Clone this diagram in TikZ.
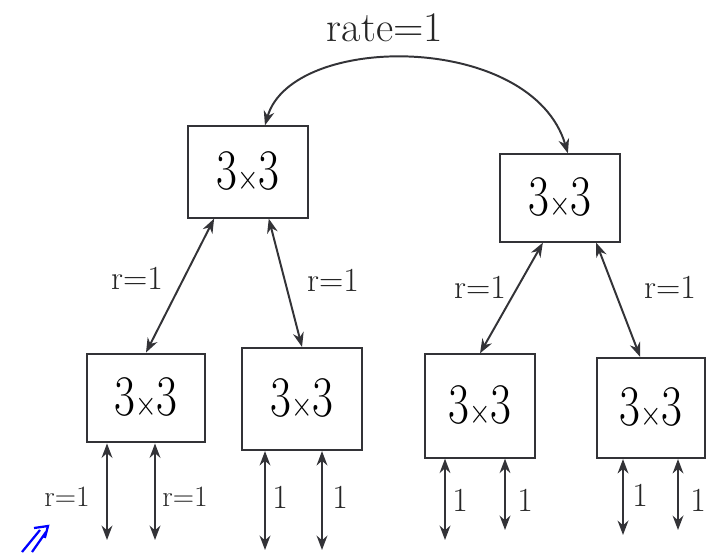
\documentclass[tikz,border=0pt]{standalone}
\usepackage{tikz}
\usetikzlibrary{arrows.meta, positioning}
\definecolor{inkcolor}{HTML}{333337}
\newcommand{\threebythree}{\scalebox{0.95}[1.2]{3{\fontsize{20}{22}\selectfont$\times$}3}}

\begin{document}
\begin{tikzpicture}[
    block/.style={rectangle, draw=inkcolor, line width=1.5pt, inner sep=0pt, minimum width=2.9cm, minimum height=2.3cm, font=\fontsize{34}{36}\selectfont},
    lbl/.style={black!85, inner sep=1pt, font=\fontsize{24}{26}\selectfont},
    link/.style={{Stealth[length=3.6mm,width=2.7mm]}-{Stealth[length=3.6mm,width=2.7mm]}, inkcolor, line width=1.4pt}
]
\useasboundingbox (0,0) rectangle (17.65,-13.8);

% Two blocks at top
\node[block, minimum width=3.0cm, minimum height=2.28cm] (mixL) at (6.2,-4.3) {\threebythree};
\node[block, minimum width=3.0cm, minimum height=2.18cm] (mixR) at (14.0,-4.95) {\threebythree};

% Four blocks at bottom
\node[block, minimum width=2.95cm, minimum height=2.22cm] (cellA) at (3.65,-9.95) {\threebythree};
\node[block, minimum width=2.98cm, minimum height=2.55cm] (cellB) at (7.55,-9.975) {\threebythree};
\node[block, minimum width=2.75cm, minimum height=2.58cm] (cellC) at (12.0,-10.15) {\threebythree};
\node[block, minimum width=2.7cm, minimum height=2.5cm] (cellD) at (16.275,-10.2) {\threebythree};

% Link between the top blocks
\draw[link] (mixL.70) .. controls (7.3,-0.8) and (13.3,-0.8) .. (mixR.80);
\node[lbl, font=\fontsize{30}{32}\selectfont] (rate) at (9.625,-0.7) {rate=1};

% Links - left block
\draw[link] (mixL.234) -- (cellA.north);
\draw[link] (mixL.294) -- (cellB.north);
\node[lbl] (rA) at (3.425,-6.95) {r=1};
\node[lbl] (rB) at (8.325,-7.0) {r=1};

% Links - right block
\draw[link] (mixR.249) -- (cellC.north);
\draw[link] (mixR.309) -- (cellD.102);
\node[lbl] (rC) at (12.0,-7.175) {r=1};
\node[lbl] (rD) at (16.75,-7.175) {r=1};

% Free ends below
\coordinate (a1) at (2.675,-13.5);
\coordinate (a2) at (3.875,-13.5);
\coordinate (b1) at (6.625,-13.75);
\coordinate (b2) at (8.05,-13.75);
\coordinate (c1) at (11.125,-13.5);
\coordinate (c2) at (12.625,-13.25);
\coordinate (d1) at (15.575,-13.375);
\coordinate (d2) at (16.95,-13.25);

\draw[link] (cellA.south -| a1) -- (a1);
\draw[link] (cellA.south -| a2) -- (a2);
\draw[link] (cellB.south -| b1) -- (b1);
\draw[link] (cellB.south -| b2) -- (b2);
\draw[link] (cellC.south -| c1) -- (c1);
\draw[link] (cellC.south -| c2) -- (c2);
\draw[link] (cellD.south -| d1) -- (d1);
\draw[link] (cellD.south -| d2) -- (d2);

% Labels below
\node[lbl, font=\fontsize{21}{23}\selectfont] (ra1) at (1.675,-12.425) {r=1};
\node[lbl, font=\fontsize{21}{23}\selectfont] (ra2) at (4.625,-12.425) {r=1};
\node[lbl] (rb1) at (7.0,-12.425) {1};
\node[lbl] (rb2) at (8.5,-12.425) {1};
\node[lbl] (rc1) at (11.5,-12.5) {1};
\node[lbl] (rc2) at (13.125,-12.5) {1};
\node[lbl] (rd1) at (16.0,-12.375) {1};
\node[lbl] (rd2) at (17.45,-12.5) {1};

% Blue mark in the corner
\draw[blue, line width=1.6pt] (0.55,-13.8) -- (1.0,-13.25) (0.8,-13.8) -- (1.15,-13.3)
    (0.85,-13.2) -- (1.2,-13.15) -- (1.12,-13.45);
\end{tikzpicture}
\end{document}
